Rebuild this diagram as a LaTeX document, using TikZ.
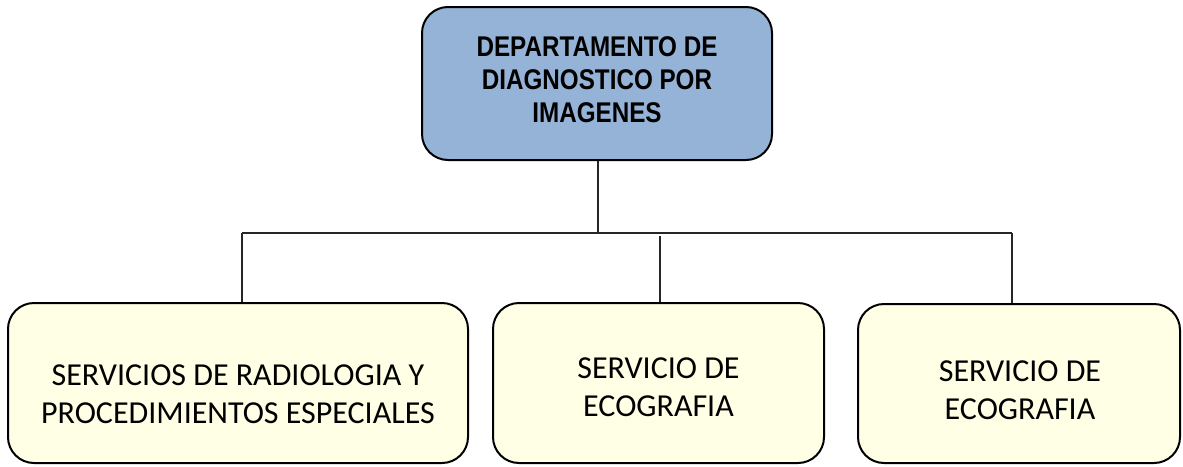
\documentclass[tikz,border=0pt]{standalone}
\usepackage{fontspec}
\newfontfamily\headfont{Liberation Sans}[FakeStretch=0.85]
\newfontfamily\bodyfont{Carlito}
\definecolor{topblue}{HTML}{95B3D7}
\definecolor{lightyel}{HTML}{FFFFE5}
\definecolor{linegray}{HTML}{262626}
\begin{document}
\begin{tikzpicture}[x=1pt,y=-1pt,
  boxbase/.style={draw=black, line width=2pt, rounded corners=26pt, inner sep=0pt},
  topbox/.style={boxbase, fill=topblue},
  subbox/.style={boxbase, fill=lightyel},
  toptext/.style={font=\headfont\bfseries\fontsize{28.5}{33}\selectfont, align=center, inner sep=0pt},
  subtext/.style={font=\bodyfont\fontsize{32}{38}\selectfont, align=center, inner sep=0pt},
  conn/.style={draw=linegray, line width=1.4pt}]
\useasboundingbox (0,0) rectangle (1183,466);
% top box
\node[topbox, minimum width=350pt, minimum height=153pt] (top) at (597,83.5) {};
\node[toptext] (toptx) at (597,80) {DEPARTAMENTO DE\\DIAGNOSTICO POR\\IMAGENES};
% bottom boxes
\node[subbox, minimum width=460pt, minimum height=160pt] (b1) at (238,383) {};
\node[subbox, minimum width=331pt, minimum height=160pt] (b2) at (658.5,383) {};
\node[subbox, minimum width=322pt, minimum height=159pt] (b3) at (1019,383.5) {};
\node[subtext] (t1) at (238,394) {SERVICIOS DE RADIOLOGIA Y\\PROCEDIMIENTOS ESPECIALES};
\node[subtext] (t2) at (658.5,387) {SERVICIO DE\\ECOGRAFIA};
\node[subtext] (t3) at (1020,390) {SERVICIO DE\\ECOGRAFIA};
% connectors
\coordinate (j) at (598,233);
\coordinate (l) at (242,233);
\coordinate (m) at (660,236);
\coordinate (r) at (1012,233);
\draw[conn] (top.south -| j) -- (j);
\draw[conn] (l) -- (r);
\draw[conn] (l) -- (l |- b1.north);
\draw[conn] (m) -- (m |- b2.north);
\draw[conn] (r) -- (r |- b3.north);
\end{tikzpicture}
\end{document}
